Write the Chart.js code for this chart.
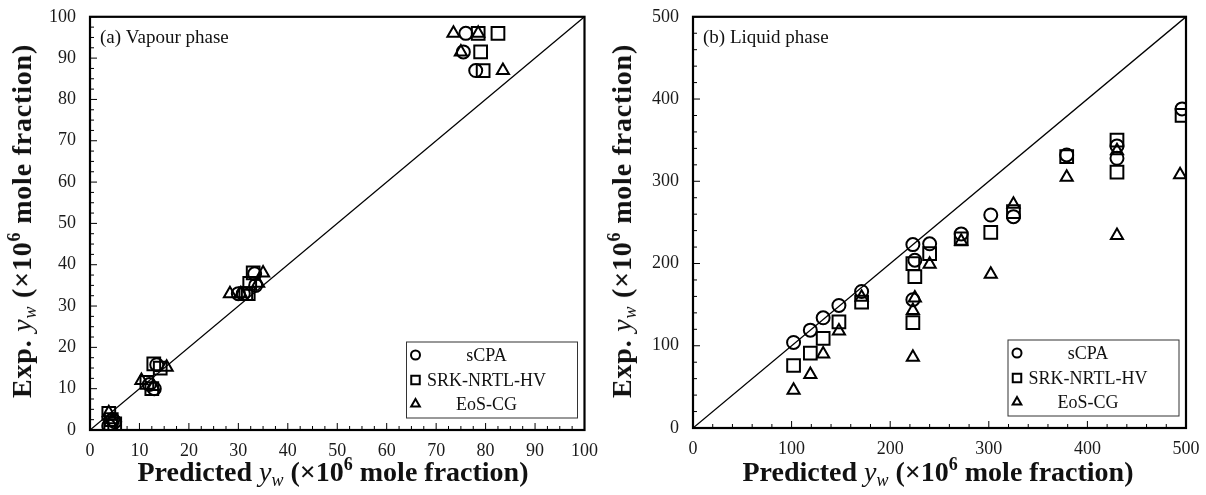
<!DOCTYPE html>
<html>
<head>
<meta charset="utf-8">
<script src="https://cdn.jsdelivr.net/npm/chart.js@4.4.1/dist/chart.umd.min.js"></script>
<style>
  body { margin: 0; background: #fff; }
  #wrap { position: relative; width: 1206px; height: 495px; overflow: hidden; }
  canvas { position: absolute; top: 0; }
  .ttl { position: absolute; font-family: 'Liberation Serif', 'DejaVu Serif', serif; font-weight: bold;
         font-size: 28px; color: #111; white-space: nowrap; line-height: 1; }
  .ttl i { font-weight: normal; font-style: italic; }
  .ttl sub { font-size: 18px; vertical-align: -5px; font-weight: normal; font-style: italic; line-height: 0; }
  .ttl sup { font-size: 18px; vertical-align: 11px; line-height: 0; }
  .rot { transform: translate(-50%, -50%) rotate(-90deg); letter-spacing: 0.8px; }
  .hor { transform: translate(-50%, -50%); }
</style>
</head>
<body>
<div id="wrap">
  <canvas id="vapour" width="600" height="495" style="left:0"></canvas>
  <canvas id="liquid" width="606" height="495" style="left:600px"></canvas>
  <div class="ttl hor" style="left:333px; top:472px">Predicted <i>y</i><sub>w</sub> (×10<sup>6</sup> mole fraction)</div>
  <div class="ttl rot" style="left:22px; top:221px">Exp. <i>y</i><sub>w</sub> (×10<sup>6</sup> mole fraction)</div>
  <div class="ttl hor" style="left:938px; top:472px">Predicted <i>y</i><sub>w</sub> (×10<sup>6</sup> mole fraction)</div>
  <div class="ttl rot" style="left:622px; top:221px">Exp. <i>y</i><sub>w</sub> (×10<sup>6</sup> mole fraction)</div>
</div>
<script>
const seriesNames = ['sCPA', 'SRK-NRTL-HV', 'EoS-CG'];

// (a) vapour phase
const vapCpaPred = [76, 75.5, 78, 33.3, 33.5, 30, 31, 13.5, 12, 13, 5, 3.8, 4.6];
const vapCpaExp  = [96, 91.5, 87, 37.8, 35, 33, 33, 15.8, 11, 10, 2, 1, 2.5];
const vapSrkPred = [78.5, 82.5, 79, 79.5, 33, 32.3, 32, 31.5, 12.9, 14.2, 11.5, 12.5, 3.8, 4.2, 4.3, 5];
const vapSrkExp  = [96, 96, 91.5, 87, 38, 35.5, 33, 33, 16, 15, 11.5, 10, 4, 1, 2.5, 1.5];
const vapCgPred  = [73.5, 78.5, 75, 83.5, 35, 34, 28.3, 30.5, 15.5, 10.4, 12.8, 3.8, 4.5];
const vapCgExp   = [96, 96, 91.5, 87, 38, 35.5, 33, 33, 15.2, 12, 10.5, 4.2, 2.5];

// (b) liquid phase
const liqCpaPred = [102, 119, 132, 148, 171, 223, 240, 225, 223, 272, 302, 325, 379, 430, 430, 496];
const liqCpaExp  = [104, 119, 134, 149, 166, 223, 224, 204, 156, 236, 259, 257, 332, 343, 328, 388];
const liqSrkPred = [102, 119, 132, 148, 171, 223, 240, 225, 223, 272, 302, 325, 379, 430, 430, 496];
const liqSrkExp  = [76, 91, 109, 129, 153, 200, 212, 184, 128, 230, 238, 263, 330, 350, 311, 380];
const liqCgPred  = [102, 119, 132, 148, 171, 240, 225, 223, 223, 272, 302, 325, 379, 430, 430, 494];
const liqCgExp   = [46, 65, 90, 118, 159, 199, 158, 143, 86, 227, 187, 272, 305, 337, 234, 308];

const vapTicks = [0, 10, 20, 30, 40, 50, 60, 70, 80, 90, 100];
const liqTicks = [0, 100, 200, 300, 400, 500];

const serif = "'Liberation Serif', 'DejaVu Serif', serif";

function pts(xs, ys) {
  return xs.map((x, i) => ({ x: x, y: ys[i] }));
}

const markers = [
  { style: 'circle', r: 6.5, lr: 4.5 },
  { style: 'rect', r: 9, lr: 6 },
  { style: 'triangle', r: 7, lr: 5 }
];

// frame, inner ticks, panel label and legend box
const framePlugin = {
  id: 'frame',
  afterDraw(chart, args, opts) {
    const { ctx, chartArea: a } = chart;
    const xs = chart.scales.x, ys = chart.scales.y;
    ctx.save();
    ctx.strokeStyle = '#000';
    ctx.lineWidth = 1;
    for (let v = 0; v <= opts.max + 1e-9; v += opts.minor) {
      const major = Math.abs(v / opts.major - Math.round(v / opts.major)) < 1e-6;
      const len = major ? 7 : 4;
      const px = xs.getPixelForValue(v);
      const py = ys.getPixelForValue(v);
      ctx.beginPath();
      ctx.moveTo(px, a.bottom); ctx.lineTo(px, a.bottom - len);
      ctx.moveTo(a.left, py); ctx.lineTo(a.left + len, py);
      ctx.stroke();
    }
    ctx.lineWidth = 2.2;
    ctx.strokeRect(a.left, a.top, a.right - a.left, a.bottom - a.top);

    ctx.fillStyle = '#111';
    ctx.font = '19px ' + serif;
    ctx.textAlign = 'left';
    ctx.textBaseline = 'alphabetic';
    ctx.fillText(opts.label, a.left + 10, a.top + 26);

    // legend
    const bw = 171, bh = 76;
    const bx = a.right - 178, by = a.bottom - 88;
    ctx.fillStyle = '#fff';
    ctx.fillRect(bx, by, bw, bh);
    ctx.lineWidth = 1;
    ctx.strokeStyle = '#333';
    ctx.strokeRect(bx, by, bw, bh);
    const rows = [13, 38, 62];
    seriesNames.forEach((name, i) => {
      const yy = by + rows[i];
      ctx.strokeStyle = '#000';
      ctx.fillStyle = '#fff';
      ctx.lineWidth = 2;
      Chart.helpers.drawPoint(ctx, { pointStyle: markers[i].style, radius: markers[i].lr, borderWidth: 2 }, bx + 9, yy);
      ctx.fillStyle = '#111';
      ctx.font = '18px ' + serif;
      ctx.textAlign = 'center';
      ctx.textBaseline = 'middle';
      ctx.fillText(name, bx + 80, yy + 1);
    });
    ctx.restore();
  }
};

function makeChart(id, sets, max, tickVals, minor, label, yWidth, xHeight, padRight) {
  const datasets = sets.map((s, i) => ({
    label: seriesNames[i],
    data: pts(s[0], s[1]),
    pointStyle: markers[i].style,
    pointRadius: markers[i].r,
    pointBorderWidth: 2,
    borderColor: '#000',
    backgroundColor: 'rgba(0,0,0,0)',
    showLine: false
  }));
  datasets.push({
    type: 'line',
    label: 'parity',
    data: [{ x: tickVals[0], y: tickVals[0] }, { x: tickVals[tickVals.length - 1], y: tickVals[tickVals.length - 1] }],
    borderColor: '#000',
    borderWidth: 1.3,
    pointRadius: 0,
    order: 10
  });

  const axis = (fit, pad) => ({
    type: 'linear',
    min: 0,
    max: max,
    afterBuildTicks: (s) => { s.ticks = tickVals.map(v => ({ value: v })); },
    afterFit: fit,
    ticks: {
      color: '#1a1a1a',
      font: { family: serif, size: 18 },
      padding: pad
    },
    grid: { display: false },
    border: { display: false }
  });

  const config = {
    type: 'scatter',
    data: { datasets: datasets },
    options: {
      responsive: false,
      animation: false,
      devicePixelRatio: 1,
      layout: { padding: { top: 12, right: padRight, left: 0, bottom: 0 } },
      plugins: {
        legend: { display: false },
        tooltip: { enabled: false },
        frame: { max: max, minor: minor, major: tickVals[1] - tickVals[0], label: label }
      },
      scales: {
        x: axis((s) => { s.height = xHeight; }, 2),
        y: axis((s) => { s.width = yWidth; }, 6)
      }
    },
    plugins: [framePlugin]
  };
  return new Chart(document.getElementById(id).getContext('2d'), config);
}

makeChart('vapour',
  [[vapCpaPred, vapCpaExp], [vapSrkPred, vapSrkExp], [vapCgPred, vapCgExp]],
  100, vapTicks, 2.5, '(a) Vapour phase', 90, 65, 15);
makeChart('liquid',
  [[liqCpaPred, liqCpaExp], [liqSrkPred, liqSrkExp], [liqCgPred, liqCgExp]],
  500, liqTicks, 20, '(b) Liquid phase', 93, 67, 20);
</script>
</body>
</html>
